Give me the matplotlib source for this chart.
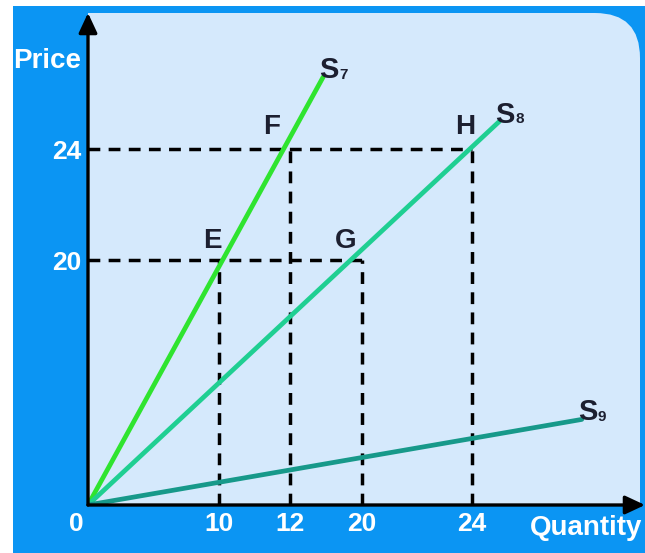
import numpy as np
import matplotlib
matplotlib.use("Agg")
import matplotlib.pyplot as plt
from matplotlib.patches import Rectangle, PathPatch
from matplotlib.path import Path

plt.rcParams["font.family"] = ["Liberation Sans", "DejaVu Sans"]
plt.rcParams["font.weight"] = "bold"
plt.rcParams["mathtext.fontset"] = "custom"
plt.rcParams["mathtext.rm"] = "Liberation Sans:bold"
plt.rcParams["mathtext.bf"] = "Liberation Sans:bold"

# ---- data -------------------------------------------------------------
quantity_ticks = [10, 12, 20, 24]
price_ticks = [20, 24]

# labelled equilibrium points (quantity, price)
point_names = ["E", "F", "G", "H"]
point_q = [10, 12, 20, 24]
point_p = [20, 24, 20, 24]

# supply curves: start at the origin, end point (quantity, price)
supply_names = ["7", "8", "9"]
supply_end_q = [15.7, 25.0, 28.0]
supply_end_p = [26.6, 25.0, 7.0]
supply_colors = ["#2fe42f", "#1fcf92", "#17998a"]

# ---- schematic (non-uniform) axis scales -------------------------------
Q_KNOTS = [-10, 0, 10, 12, 20, 24, 40]
Q_POS = [-131, 0, 131, 202, 274, 384, 824]
P_KNOTS = [-10, 0, 20, 24, 40]
P_POS = [-122, 0, 244, 355, 799]


def q_fwd(v):
    return np.interp(v, Q_KNOTS, Q_POS)


def q_inv(u):
    return np.interp(u, Q_POS, Q_KNOTS)


def p_fwd(v):
    return np.interp(v, P_KNOTS, P_POS)


def p_inv(u):
    return np.interp(u, P_POS, P_KNOTS)


W, H = 645, 553
fig = plt.figure(figsize=(W / 100, H / 100), dpi=100, facecolor="white")


def fx(x, y):
    return (x / W, 1 - y / H)


# blue backdrop
bg = Rectangle((13 / W, 0), 1 - 13 / W, 1 - 6 / H, transform=fig.transFigure,
               facecolor="#0b95f3", edgecolor="none", zorder=-3)
fig.patches.append(bg)

# light panel with a rounded top-right corner
R = 45
verts = [fx(88, 505), fx(88, 13), fx(640 - R, 13), fx(640, 13), fx(640, 13 + R),
         fx(640, 505), fx(88, 505)]
codes = [Path.MOVETO, Path.LINETO, Path.LINETO, Path.CURVE3, Path.CURVE3,
         Path.LINETO, Path.CLOSEPOLY]
panel = PathPatch(Path(verts, codes), transform=fig.transFigure,
                  facecolor="#d5e9fc", edgecolor="none", zorder=-2)
fig.patches.append(panel)

ax = fig.add_axes([88 / W, (H - 505) / H, (W - 88) / W, (505 - 13) / H])
ax.set_facecolor("none")
ax.set_xscale("function", functions=(q_fwd, q_inv))
ax.set_yscale("function", functions=(p_fwd, p_inv))
ax.set_xlim(0, 30.3)
ax.set_ylim(0, 28.9)
for s in ax.spines.values():
    s.set_visible(False)

# axes with arrow heads
arrow_kw = dict(arrowstyle="-|>,head_length=0.6,head_width=0.28", lw=2.4,
                color="black", shrinkA=0, shrinkB=0, mutation_scale=20)
ax.annotate("", xy=(1, 0), xytext=(0, 0), xycoords="axes fraction",
            arrowprops=arrow_kw, annotation_clip=False, zorder=5)
ax.annotate("", xy=(0, 1), xytext=(0, 0), xycoords="axes fraction",
            arrowprops=arrow_kw, annotation_clip=False, zorder=5)

# ticks
ax.set_xticks(quantity_ticks)
ax.set_xticklabels([str(v) for v in quantity_ticks])
ax.set_yticks(price_ticks)
ax.set_yticklabels([str(v) for v in price_ticks])
ax.tick_params(axis="both", length=0, labelcolor="white", labelsize=19)
ax.tick_params(axis="x", pad=5)
ax.tick_params(axis="y", pad=5)
ax.minorticks_off()

# dashed guide lines
dash = dict(color="black", lw=2.5, linestyle=(0, (3.4, 2.4)), zorder=2)
for q, p in zip(point_q, point_p):
    ax.plot([q, q], [0, p], **dash)
for p in price_ticks:
    qmax = max(q for q, pp in zip(point_q, point_p) if pp == p)
    ax.plot([0, qmax], [p, p], **dash)

# supply curves
for name, q1, p1, c in zip(supply_names, supply_end_q, supply_end_p, supply_colors):
    ax.plot([0, q1], [0, p1], color=c, lw=3.4, solid_capstyle="round", zorder=3)
    ax.annotate(r"$\mathbf{S}$", xy=(q1, p1), xytext=(-3, 5),
                textcoords="offset points", fontsize=21, color="#1c1f30",
                ha="left", va="center", zorder=4)
    ax.annotate(name, xy=(q1, p1), xytext=(11.5, 1.5),
                textcoords="offset points", fontsize=11, color="#1c1f30",
                ha="left", va="center", zorder=4)

# point labels
label_offsets = {"E": (-5, 14), "F": (-13, 16), "G": (-12, 14), "H": (-5, 16)}
for name, q, p in zip(point_names, point_q, point_p):
    ax.annotate(name, xy=(q, p), xytext=label_offsets[name],
                textcoords="offset points", fontsize=20, color="#1c1f30",
                ha="center", va="center", zorder=4)

# axis titles and origin
fig.text(*fx(47, 61), "Price", color="white", fontsize=20, ha="center", va="center")
fig.text(*fx(530, 528), "Quantity", color="white", fontsize=20, ha="left", va="center")
fig.text(*fx(76, 524), "0", color="white", fontsize=19, ha="center", va="center")

fig.savefig("out.png", dpi=100, facecolor="white")
